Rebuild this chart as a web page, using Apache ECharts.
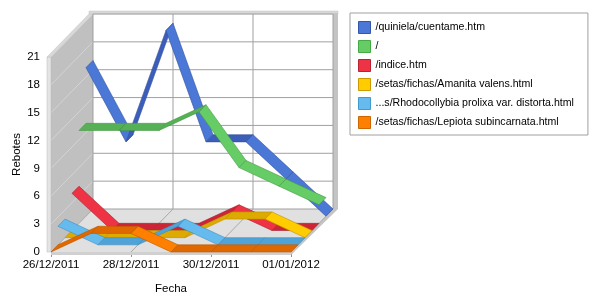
<!DOCTYPE html>
<html><head><meta charset="utf-8">
<script src="https://cdn.jsdelivr.net/npm/echarts@6/dist/echarts.min.js"></script>
<style>html,body{margin:0;padding:0;background:#fff}#c{width:600px;height:300px}</style>
</head><body><div id="c"></div>
<script>
const categories = ['26/12/2011','27/12/2011','28/12/2011','29/12/2011','30/12/2011','31/12/2011','01/01/2012'];
const seriesNames = ['/quiniela/cuentame.htm','/','/indice.htm','/setas/fichas/Amanita valens.html','...s/Rhodocollybia prolixa var. distorta.html','/setas/fichas/Lepiota subincarnata.html'];
const quiniela = [16, 8, 20, 8, 8, 4, 0];
const raiz = [10, 10, 10, 12, 6, 4, 2];
const indice = [4, 0, 0, 0, 2, 0, 0];
const amanita = [0, 0, 0, 0, 2, 2, 0];
const rhodocollybia = [2, 0, 0, 2, 0, 0, 0];
const lepiota = [0, 2, 2, 0, 0, 0, 0];
const yMin = 0, yMax = 21, yStep = 3;

const seriesValues = [quiniela, raiz, indice, amanita, rhodocollybia, lepiota];
const brightColors = ['#4b77d6', '#66cc66', '#ee3344', '#ffcc00', '#66bbee', '#ff8000'];
const darkColors   = ['#3c5db8', '#56b056', '#cc2536', '#dcaa00', '#4fa3d6', '#e06800'];
const edgeColors   = ['#3350a0', '#449944', '#aa1f2e', '#c09000', '#3f8cc0', '#c05800'];
const legendBorders = ['#3355aa', '#44aa44', '#bb2233', '#cc9900', '#4499cc', '#cc6600'];
const DX = 42, DY = 43;
const FONT = 'Liberation Sans';

function off(p, t) { return [p[0] + DX * t, p[1] - DY * t]; }
function segData(vals) {
  const d = [];
  for (let i = 0; i < vals.length - 1; i++) d.push([i, vals[i], i + 1, vals[i + 1]]);
  return d;
}

function ribbonSeries(k) {
  const n = seriesValues.length;
  const t0 = (n - 1 - k) / n, t1 = (n - k) / n;
  return {
    type: 'custom', name: seriesNames[k], z: 3,
    data: segData(seriesValues[k]), encode: { x: [0, 2], y: [1, 3] },
    itemStyle: { color: brightColors[k] },
    renderItem: function (params, api) {
      const a = api.coord([api.value(0), api.value(1)]);
      const b = api.coord([api.value(2), api.value(3)]);
      const falling = api.value(3) < api.value(1);
      return {
        type: 'polygon',
        shape: { points: [off(a, t0), off(b, t0), off(b, t1), off(a, t1)] },
        style: { fill: falling ? brightColors[k] : darkColors[k], stroke: edgeColors[k], lineWidth: 0.6 }
      };
    }
  };
}

const wallSeries = {
  type: 'custom', name: 'walls', z: 1, silent: true,
  data: [[0, 0]], encode: { x: 0, y: 1 },
  renderItem: function (params, api) {
    const last = categories.length - 1;
    const c00 = api.coord([0, yMin]), cL0 = api.coord([last, yMin]);
    const c0T = api.coord([0, yMax]), cLT = api.coord([last, yMax]);
    const ch = [];
    ch.push({ type: 'polygon', shape: { points: [c00, c0T, off(c0T, 1), off(c00, 1)] }, style: { fill: '#c0c0c0' } });
    for (let v = yMin + yStep; v < yMax; v += yStep) {
      const p = api.coord([0, v]);
      ch.push({ type: 'line', shape: { x1: p[0], y1: p[1], x2: off(p, 1)[0], y2: off(p, 1)[1] }, style: { stroke: '#d4d4d4', lineWidth: 1 } });
    }
    ch.push({ type: 'rect', shape: { x: c0T[0] - 4, y: c0T[1], width: 4, height: c00[1] - c0T[1] }, style: { fill: '#e4e4e4', stroke: '#b8b8b8', lineWidth: 0.5 } });
    ch.push({ type: 'polygon', shape: { points: [[c0T[0] - 4, c0T[1]], c0T, off(c0T, 1), [off(c0T, 1)[0] - 4, off(c0T, 1)[1]]] }, style: { fill: '#d8d8d8', stroke: '#c4c4c4', lineWidth: 0.5 } });
    const bT = off(c0T, 1), bLT = off(cLT, 1), bL0 = off(cL0, 1);
    ch.push({ type: 'rect', shape: { x: bT[0] - 4, y: bT[1] - 3, width: bLT[0] - bT[0] + 9, height: 3 }, style: { fill: '#d8d8d8', stroke: '#c4c4c4', lineWidth: 0.5 } });
    ch.push({ type: 'rect', shape: { x: bLT[0], y: bLT[1] - 1, width: 5, height: bL0[1] - bLT[1] + 1 }, style: { fill: '#c4c4c4' } });
    ch.push({ type: 'polygon', shape: { points: [c00, cL0, off(cL0, 1), off(c00, 1)] }, style: { fill: '#e0e0e0' } });
    ch.push({ type: 'rect', shape: { x: c00[0], y: c00[1], width: cL0[0] - c00[0], height: 3 }, style: { fill: '#d0d0d0' } });
    ch.push({ type: 'polygon', shape: { points: [cL0, bL0, [bL0[0] + 5, bL0[1]], [cL0[0] + 5, cL0[1] - 2], [cL0[0], cL0[1] + 3]] }, style: { fill: '#c4c4c4' } });
    for (let v = yMin; v <= yMax; v += yStep) {
      const p = off(api.coord([0, v]), 1), q = off(api.coord([last, v]), 1);
      ch.push({ type: 'line', shape: { x1: p[0], y1: p[1], x2: q[0], y2: q[1] }, style: { stroke: '#a0a0a0', lineWidth: 1 } });
    }
    for (let i = 0; i <= last; i += 2) {
      const p = off(api.coord([i, yMin]), 1), q = off(api.coord([i, yMax]), 1);
      ch.push({ type: 'line', shape: { x1: p[0], y1: p[1], x2: q[0], y2: q[1] }, style: { stroke: '#a0a0a0', lineWidth: 1 } });
      const f = api.coord([i, yMin]);
      ch.push({ type: 'line', shape: { x1: f[0], y1: f[1], x2: p[0], y2: p[1] }, style: { stroke: '#a8a8a8', lineWidth: 1 } });
    }
    return { type: 'group', children: ch };
  }
};

const chart = echarts.init(document.getElementById('c'), null, { renderer: 'canvas' });
chart.setOption({
  animation: false,
  backgroundColor: '#ffffff',
  textStyle: { fontFamily: FONT },
  grid: { left: 51, right: 309, top: 57, bottom: 42, containLabel: false },
  xAxis: {
    type: 'category', data: categories, boundaryGap: false,
    name: 'Fecha', nameLocation: 'middle', nameGap: 31,
    nameTextStyle: { color: '#000', fontSize: 11.5, fontFamily: FONT },
    axisLine: { show: false },
    axisTick: { show: true, interval: 1, length: 5, lineStyle: { color: '#909090' } },
    axisLabel: { interval: 1, color: '#000', fontSize: 11.5, fontFamily: FONT, margin: 7 },
    splitLine: { show: false }
  },
  yAxis: {
    type: 'value', min: yMin, max: yMax, interval: yStep,
    name: 'Rebotes', nameLocation: 'middle', nameGap: 28, nameRotate: 90,
    nameTextStyle: { color: '#000', fontSize: 11.5, fontFamily: FONT },
    axisLine: { show: false }, axisTick: { show: false },
    axisLabel: { color: '#000', fontSize: 11.5, fontFamily: FONT, margin: 11 },
    splitLine: { show: false }
  },
  legend: {
    orient: 'vertical', left: 350, top: 13,
    padding: [8, 14, 6, 8], itemGap: 6, itemWidth: 12, itemHeight: 12,
    borderColor: '#a0a0a0', borderWidth: 1,
    textStyle: { color: '#000', fontSize: 10.6, fontFamily: FONT },
    data: seriesNames.map((n, k) => ({ name: n, icon: 'rect', itemStyle: { color: brightColors[k], borderColor: legendBorders[k], borderWidth: 1 } }))
  },
  series: [wallSeries].concat(seriesValues.map((v, k) => ribbonSeries(k)))
});
</script></body></html>
